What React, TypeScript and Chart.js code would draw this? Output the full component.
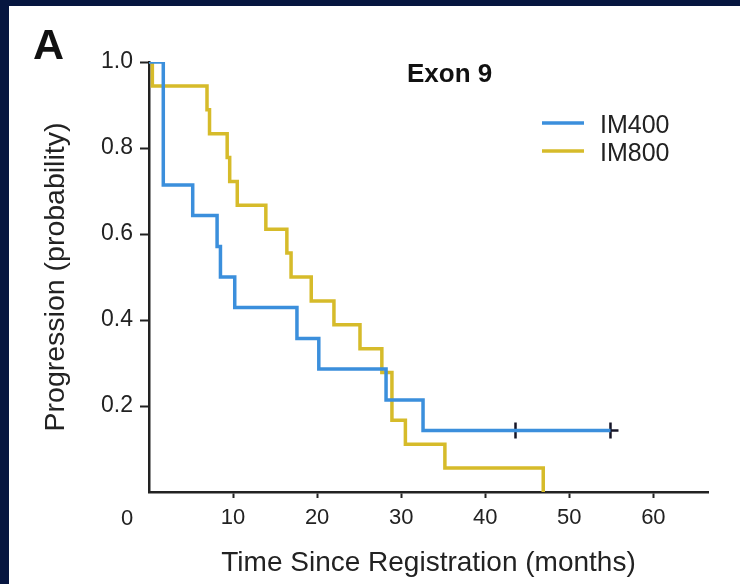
import React, { useEffect, useRef } from "react";
import { Chart, registerables } from "chart.js";

Chart.register(...registerables);

// ---- data ----
const im400Months = [0, 1.7, 5.2, 8.1, 8.5, 10.2, 17.6, 20.2, 28.2, 32.6, 54.9];
const im400Prob = [1, 0.714, 0.643, 0.571, 0.5, 0.429, 0.357, 0.286, 0.214, 0.143, 0.143];
const im400CensorMonths = [43.6, 54.9];
const im400CensorProb = [0.143, 0.143];
const im800Months = [0, 0.4, 6.9, 7.2, 9.3, 9.6, 10.5, 13.9, 16.4, 16.9, 19.3, 22.0, 25.1, 27.7, 28.9, 30.5, 35.2, 46.9];
const im800Prob = [1, 0.944, 0.889, 0.833, 0.778, 0.722, 0.667, 0.611, 0.556, 0.5, 0.444, 0.389, 0.333, 0.278, 0.167, 0.111, 0.056, 0];
const seriesLabels = ["IM400", "IM800"];
const panelLetter = "A";
const panelTitle = "Exon 9";
const xTitle = "Time Since Registration (months)";
const yTitle = "Progression (probability)";

const BLUE = "#3b8fdc";
const YELLOW = "#d6bb2a";
const INK = "#222222";
const NAVY = "#061640";
const FONT = "'Liberation Sans', Arial, Helvetica, sans-serif";

const toPoints = (xs: number[], ys: number[]) => xs.map((x, i) => ({ x, y: ys[i] }));

export default function App() {
  const ref = useRef<HTMLCanvasElement | null>(null);

  useEffect(() => {
    if (!ref.current) return;

    const overlay = {
      id: "overlay",
      afterDraw(chart: any) {
        const { ctx, chartArea, scales } = chart;
        ctx.save();
        ctx.fillStyle = "#111";
        ctx.textBaseline = "alphabetic";
        // panel letter
        ctx.font = `bold 43px ${FONT}`;
        ctx.textAlign = "left";
        ctx.fillText(panelLetter, 24, 53);
        // panel title
        ctx.font = `bold 26px ${FONT}`;
        ctx.fillText(panelTitle, 398, 76);
        // origin label "0"
        ctx.fillStyle = INK;
        ctx.font = `22px ${FONT}`;
        ctx.textAlign = "center";
        ctx.textBaseline = "middle";
        ctx.fillText("0", scales.x.getPixelForValue(0) - 22, chartArea.bottom + 27);
        // legend
        const colors = [BLUE, YELLOW];
        ctx.textAlign = "left";
        ctx.textBaseline = "alphabetic";
        ctx.font = `25px ${FONT}`;
        seriesLabels.forEach((lab, i) => {
          const y = 117 + i * 28;
          ctx.strokeStyle = colors[i];
          ctx.lineWidth = 3.5;
          ctx.beginPath();
          ctx.moveTo(533, y);
          ctx.lineTo(575, y);
          ctx.stroke();
          ctx.fillStyle = INK;
          ctx.fillText(lab, 591, y + 10);
        });
        ctx.restore();
      },
    };

    const chart = new Chart(ref.current, {
      type: "line",
      data: {
        datasets: [
          {
            label: seriesLabels[0],
            data: toPoints(im400Months, im400Prob),
            borderColor: BLUE,
            borderWidth: 3.5,
            stepped: "before",
            pointRadius: 0,
            fill: false,
          },
          {
            label: seriesLabels[1],
            data: toPoints(im800Months, im800Prob),
            borderColor: YELLOW,
            borderWidth: 3.5,
            stepped: "before",
            pointRadius: 0,
            fill: false,
          },
          {
            label: "censored",
            data: toPoints(im400CensorMonths, im400CensorProb),
            showLine: false,
            pointStyle: "cross",
            pointRadius: 8,
            pointBorderWidth: 2.5,
            pointBorderColor: "#161628",
            borderColor: "#161628",
          },
        ],
      },
      options: {
        responsive: false,
        animation: false,
        layout: { padding: { left: 20, top: 56, right: 32, bottom: 0 } },
        plugins: { legend: { display: false }, tooltip: { enabled: false } },
        scales: {
          x: {
            type: "linear",
            min: 0,
            max: 66.5,
            afterFit: (s: any) => {
              s.height = 92;
            },
            grid: {
              drawOnChartArea: false,
              drawTicks: true,
              tickLength: 6,
              tickWidth: 2,
              tickColor: (c: any) => (c.tick && c.tick.value === 0 ? "rgba(0,0,0,0)" : INK),
            },
            border: { display: true, color: INK, width: 2.5 },
            ticks: {
              stepSize: 10,
              includeBounds: false,
              padding: 7,
              color: INK,
              font: { family: FONT, size: 22 },
              maxRotation: 0,
              callback: (v: any) => (Number(v) === 0 ? "" : String(v)),
            },
            title: {
              display: true,
              text: xTitle,
              color: INK,
              font: { family: FONT, size: 28 },
              padding: { top: 0, bottom: 4 },
            },
          },
          y: {
            min: 0,
            max: 1,
            afterFit: (s: any) => {
              s.width = 120;
            },
            grid: {
              drawOnChartArea: false,
              drawTicks: true,
              tickLength: 9,
              tickWidth: 2,
              tickColor: (c: any) => (c.tick && c.tick.value === 0 ? "rgba(0,0,0,0)" : INK),
            },
            border: { display: true, color: INK, width: 2.5 },
            ticks: {
              stepSize: 0.2,
              padding: 7,
              color: INK,
              font: { family: FONT, size: 23 },
              callback: (v: any) => (Number(v) === 0 ? "" : Number(v).toFixed(1)),
            },
            title: {
              display: true,
              text: yTitle,
              color: INK,
              font: { family: FONT, size: 28.5 },
              padding: { top: 10, bottom: 0 },
            },
          },
        },
      },
      plugins: [overlay],
    } as any);

    return () => chart.destroy();
  }, []);

  return (
    <div
      style={{
        position: "absolute",
        top: 0,
        left: 0,
        width: 740,
        height: 584,
        boxSizing: "border-box",
        borderTop: `6px solid ${NAVY}`,
        borderLeft: `9px solid ${NAVY}`,
        background: "#fff",
      }}
    >
      <canvas ref={ref} width={731} height={578} style={{ display: "block" }} />
    </div>
  );
}
